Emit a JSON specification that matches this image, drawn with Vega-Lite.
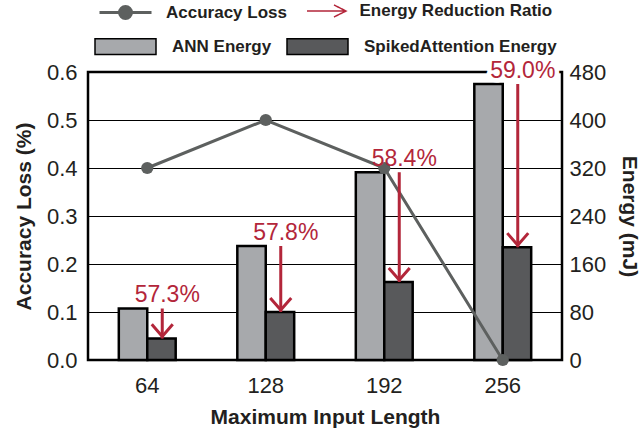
{
  "$schema": "https://vega.github.io/schema/vega-lite/v6.json",
  "width": 474,
  "height": 288,
  "autosize": {"type": "none"},
  "padding": {"left": 88, "top": 72, "right": 79, "bottom": 75},
  "background": "white",
  "datasets": {
    "main": [
      {"len": "64", "ann": 86, "spiked": 36, "acc": 0.4, "ratio": "57.3%"},
      {"len": "128", "ann": 190, "spiked": 80, "acc": 0.5, "ratio": "57.8%"},
      {"len": "192", "ann": 313, "spiked": 130, "acc": 0.4, "ratio": "58.4%"},
      {"len": "256", "ann": 460, "spiked": 188, "acc": 0.0, "ratio": "59.0%"}
    ],
    "bars": [
      {"len": "64", "series": "ANN Energy", "energy": 86},
      {"len": "64", "series": "SpikedAttention Energy", "energy": 36},
      {"len": "128", "series": "ANN Energy", "energy": 190},
      {"len": "128", "series": "SpikedAttention Energy", "energy": 80},
      {"len": "192", "series": "ANN Energy", "energy": 313},
      {"len": "192", "series": "SpikedAttention Energy", "energy": 130},
      {"len": "256", "series": "ANN Energy", "energy": 460},
      {"len": "256", "series": "SpikedAttention Energy", "energy": 188}
    ]
  },
  "config": {
    "font": "Liberation Sans",
    "view": {"stroke": "black", "strokeWidth": 2.5},
    "axis": {
      "labelFont": "Liberation Sans",
      "labelFontSize": 22,
      "labelColor": "#231f20",
      "titleFont": "Liberation Sans",
      "titleFontSize": 21,
      "titleFontWeight": "bold",
      "titleColor": "#231f20",
      "domain": false,
      "ticks": false
    },
    "legend": {
      "padding": 0,
      "labelFont": "Liberation Sans",
      "labelFontSize": 17,
      "labelFontWeight": "bold",
      "labelColor": "#231f20",
      "labelLimit": 0
    }
  },
  "layer": [
    {
      "data": {"name": "bars"},
      "mark": {"type": "bar", "stroke": "black", "strokeWidth": 2.5},
      "encoding": {
        "x": {
          "field": "len", "type": "ordinal", "sort": ["64", "128", "192", "256"],
          "scale": {"paddingInner": 0.52, "paddingOuter": 0.26},
          "axis": {"title": "Maximum Input Length", "labelAngle": 0, "labelPadding": 15, "titlePadding": 10, "grid": false}
        },
        "xOffset": {
          "field": "series", "type": "nominal", "sort": ["ANN Energy", "SpikedAttention Energy"],
          "scale": {"paddingInner": 0, "paddingOuter": 0}
        },
        "y": {
          "field": "energy", "type": "quantitative", "scale": {"domain": [0, 480]},
          "axis": {"orient": "right", "title": "Energy (mJ)", "values": [0, 80, 160, 240, 320, 400, 480], "grid": false, "labelPadding": 7, "titlePadding": 13}
        },
        "fill": {
          "field": "series", "type": "nominal", "sort": ["ANN Energy", "SpikedAttention Energy"],
          "scale": {"range": ["#a7a9ac", "#58595b"]},
          "legend": {
            "title": null, "orient": "none", "direction": "horizontal",
            "legendX": 26.5, "legendY": -36.5,
            "symbolType": "M-3.05,-0.78H3.05V0.78H-3.05Z", "symbolSize": 400,
            "labelOffset": 35.5, "columnPadding": 12,
            "encode": {"symbols": {"update": {"stroke": {"value": "black"}, "strokeWidth": {"value": 2.5}}}}
          }
        }
      }
    },
    {
      "data": {"name": "main"},
      "transform": [{"filter": "datum.len == '256'"}],
      "mark": {"type": "text", "color": "white", "stroke": "white", "strokeWidth": 9, "strokeJoin": "round", "fontSize": 23, "font": "Liberation Sans", "baseline": "alphabetic", "dy": -6, "xOffset": 20},
      "encoding": {
        "x": {"field": "len", "type": "ordinal", "sort": ["64", "128", "192", "256"]},
        "y": {"field": "ann", "type": "quantitative", "scale": {"domain": [0, 480]}, "axis": null},
        "text": {"field": "ratio"}
      }
    },
    {
      "data": {"name": "main"},
      "mark": {"type": "line", "strokeWidth": 3},
      "encoding": {
        "x": {"field": "len", "type": "ordinal", "sort": ["64", "128", "192", "256"]},
        "y": {
          "field": "acc", "type": "quantitative", "scale": {"domain": [0, 0.6]},
          "axis": {"orient": "left", "title": "Accuracy Loss (%)", "values": [0, 0.1, 0.2, 0.3, 0.4, 0.5, 0.6], "format": ".1f", "grid": true, "gridColor": "black", "gridWidth": 1, "gridOpacity": 1, "labelPadding": 11, "titlePadding": 12}
        },
        "stroke": {
          "datum": "Accuracy Loss",
          "scale": {"range": ["#5d605f"]},
          "legend": {
            "title": null, "orient": "none", "legendX": 23, "legendY": -74,
            "symbolType": "M-2,0H2M0.46,0A0.46,0.46,0,1,1,-0.46,0A0.46,0.46,0,1,1,0.46,0",
            "symbolSize": 676, "labelOffset": 26,
            "encode": {"symbols": {"update": {"fill": {"value": "#5d605f"}, "stroke": {"value": "#5d605f"}, "strokeWidth": {"value": 3}}}}
          }
        }
      }
    },
    {
      "data": {"name": "main"},
      "mark": {"type": "circle", "size": 150, "color": "#5d605f", "opacity": 1},
      "encoding": {
        "x": {"field": "len", "type": "ordinal", "sort": ["64", "128", "192", "256"]},
        "y": {"field": "acc", "type": "quantitative", "scale": {"domain": [0, 0.6]}, "axis": null}
      }
    },
    {
      "data": {"name": "main"},
      "mark": {"type": "rule", "color": "#b3263a", "strokeWidth": 3, "xOffset": 15},
      "encoding": {
        "x": {"field": "len", "type": "ordinal", "sort": ["64", "128", "192", "256"]},
        "y": {"field": "ann", "type": "quantitative", "scale": {"domain": [0, 480]}, "axis": null},
        "y2": {"field": "spiked"},
        "strokeDash": {
          "datum": "Energy Reduction Ratio",
          "scale": {"range": [[1, 0]]},
          "legend": {
            "title": null, "orient": "none", "legendX": 227.5, "legendY": -72,
            "symbolType": "M-1.95,0H1.9M0.75,-0.6L1.95,0L0.75,0.6", "symbolSize": 400,
            "labelOffset": 22,
            "encode": {"symbols": {"update": {"stroke": {"value": "#b3263a"}, "strokeWidth": {"value": 3}, "fill": {"value": "transparent"}}}}
          }
        }
      }
    },
    {
      "data": {"name": "main"},
      "mark": {"type": "point", "shape": "M-1,-1.15L0,0L1,-1.15", "size": 441, "filled": false, "stroke": "#b3263a", "strokeWidth": 3, "opacity": 1, "xOffset": 15, "yOffset": -2},
      "encoding": {
        "x": {"field": "len", "type": "ordinal", "sort": ["64", "128", "192", "256"]},
        "y": {"field": "spiked", "type": "quantitative", "scale": {"domain": [0, 480]}, "axis": null}
      }
    },
    {
      "data": {"name": "main"},
      "mark": {"type": "text", "color": "#b3263a", "fontSize": 23, "font": "Liberation Sans", "baseline": "alphabetic", "dy": -6, "xOffset": 20},
      "encoding": {
        "x": {"field": "len", "type": "ordinal", "sort": ["64", "128", "192", "256"]},
        "y": {"field": "ann", "type": "quantitative", "scale": {"domain": [0, 480]}, "axis": null},
        "text": {"field": "ratio"}
      }
    }
  ],
  "resolve": {"scale": {"y": "independent"}}
}
